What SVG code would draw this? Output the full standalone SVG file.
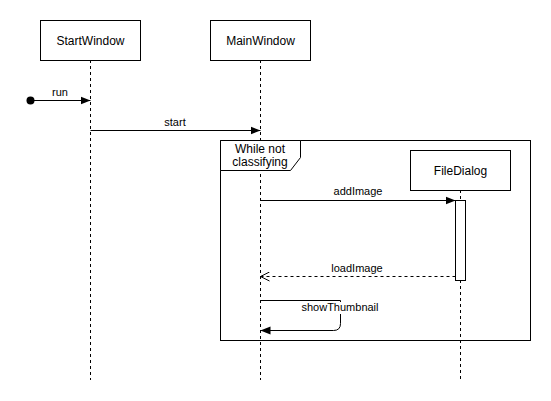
<svg xmlns="http://www.w3.org/2000/svg" width="551" height="401" viewBox="0 0 551 401">
  <defs>
    <marker id="filled" viewBox="0 0 10 10" refX="10" refY="5" markerWidth="10" markerHeight="10" markerUnits="userSpaceOnUse" orient="auto">
      <path d="M0,1 L10,5 L0,9 Z" fill="#000"/>
    </marker>
    <marker id="open" viewBox="0 0 10 10" refX="10" refY="5" markerWidth="10" markerHeight="10" markerUnits="userSpaceOnUse" orient="auto">
      <path d="M1,0.5 L10,5 L1,9.5" fill="none" stroke="#000" stroke-width="1"/>
    </marker>
    <style>
      .box { fill: #fff; stroke: #000; stroke-width: 1; }
      .life { stroke: #000; stroke-width: 1; stroke-dasharray: 3 3; fill: none; }
      .msg { stroke: #000; stroke-width: 1; fill: none; }
      .dash { stroke-dasharray: 3 3; }
      .name { font-family: "Liberation Sans", Arial, sans-serif; font-size: 12px; fill: #000; text-anchor: middle; }
      .lbl { font-family: "Liberation Sans", Arial, sans-serif; font-size: 11px; fill: #000; text-anchor: middle; }
    </style>
  </defs>
  <rect width="551" height="401" fill="#fff"/>

  <!-- lifelines -->
  <g id="lifelines">
    <line class="life" x1="90.5" y1="60" x2="90.5" y2="380"/>
    <line class="life" x1="260.5" y1="60" x2="260.5" y2="380"/>
    <line class="life" x1="460.5" y1="190" x2="460.5" y2="380"/>
  </g>

  <!-- loop frame -->
  <g id="frame">
    <rect x="220.5" y="140.5" width="310" height="200" fill="none" stroke="#000"/>
    <path d="M220.5,140.5 H300.5 V157.5 L290.5,170.5 H220.5 Z" fill="#fff" stroke="#000"/>
    <text class="name" x="260" y="153">While not</text>
    <text class="name" x="260" y="166">classifying</text>
  </g>

  <g id="StartWindow">
    <rect class="box" x="40.5" y="20.5" width="100" height="40"/>
    <text class="name" x="90.5" y="44.5">StartWindow</text>
  </g>
  <g id="MainWindow">
    <rect class="box" x="210.5" y="20.5" width="100" height="40"/>
    <text class="name" x="260.5" y="44.5">MainWindow</text>
  </g>
  <g id="FileDialog">
    <rect class="box" x="410.5" y="150.5" width="100" height="40"/>
    <text class="name" x="460.5" y="174.5">FileDialog</text>
  </g>
  <g id="activation">
    <rect class="box" x="455.5" y="200.5" width="10" height="80"/>
  </g>

  <!-- messages -->
  <g id="connectors">
    <circle cx="30.5" cy="100.5" r="4" fill="#000"/>
    <line class="msg" x1="30.5" y1="100.5" x2="90.5" y2="100.5" marker-end="url(#filled)"/>
    <text class="lbl" x="60" y="96">run</text>

    <line class="msg" x1="90.5" y1="130.5" x2="260.5" y2="130.5" marker-end="url(#filled)"/>
    <text class="lbl" x="175" y="126">start</text>

    <line class="msg" x1="260.5" y1="200.5" x2="455.5" y2="200.5" marker-end="url(#filled)"/>
    <text class="lbl" x="358" y="195">addImage</text>

    <line class="msg dash" x1="455.5" y1="276.5" x2="260.5" y2="276.5" marker-end="url(#open)"/>
    <text class="lbl" x="357" y="272">loadImage</text>

    <path class="msg" d="M260.5,300.5 H340.5 V323.5 Q340.5,330.5 333.5,330.5 H260.5" marker-end="url(#filled)"/>
    <rect x="300" y="302" width="80" height="12" fill="#fff"/>
    <text class="lbl" x="340" y="311">showThumbnail</text>
  </g>
</svg>
